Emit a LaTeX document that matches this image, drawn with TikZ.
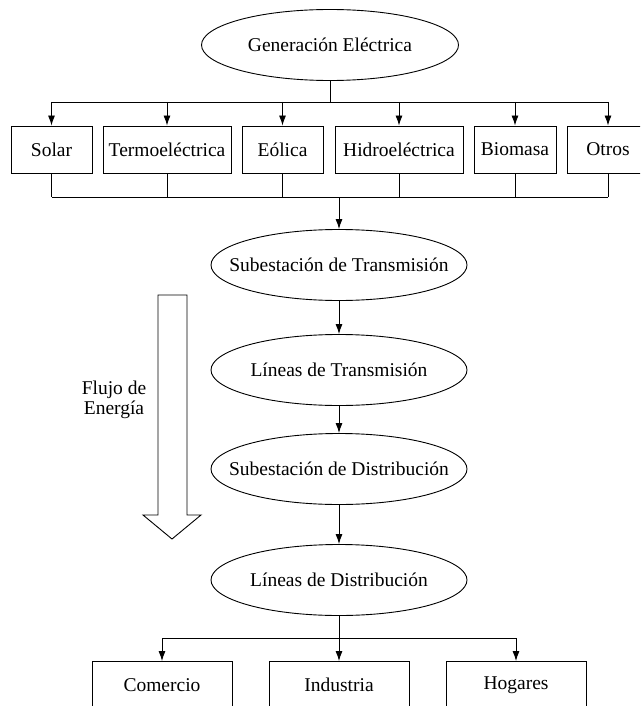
\documentclass[tikz,border=0pt]{standalone}
\usepackage{fontspec}
\setmainfont{Liberation Serif}
\usepackage{tikz}
\usetikzlibrary{arrows.meta, shapes.geometric, positioning}

\tikzset{
  elipse/.style={ellipse, draw, minimum width=256pt, minimum height=71pt,
    inner xsep=-35pt, inner ysep=0pt},
  caja/.style={rectangle, draw, minimum height=47pt, inner sep=0pt},
  flecha/.style={-{Latex[length=10pt, width=7pt]}},
}

\begin{document}
\begin{tikzpicture}[x=1pt, y=-1pt, line width=0.9pt,
    font=\fontsize{19.5}{20}\selectfont]

  \useasboundingbox (0,0) rectangle (640,706);
  \clip (0,0) rectangle (640,706);

  % Generacion
  \node[elipse, minimum width=257pt] (gen) at (330,45) {Generación Eléctrica};

  % Fuentes
  \node[caja, minimum width=81pt]  (solar)   at (51.5,149.5) {Solar};
  \node[caja, minimum width=128pt] (termo)   at (167,149.5)  {Termoeléctrica};
  \node[caja, minimum width=81pt]  (eolica)  at (282.5,149.5) {Eólica};
  \node[caja, minimum width=128pt] (hidro)   at (399,149.5)  {Hidroeléctrica};
  \node[caja, minimum width=82pt]  (biomasa) at (515,149.5)  {Biomasa};
  \node[caja, minimum width=82pt]  (otros)   at (608,149.5)  {Otros};

  \coordinate (busA) at (330,102);
  \coordinate (busB) at (339,197);
  \draw (gen) -- (busA);
  \draw (busA -| solar) -- (busA -| otros);
  \draw (busB -| solar) -- (busB -| otros);
  \foreach \f in {solar, termo, eolica, hidro, biomasa, otros} {
    \draw[flecha] (busA -| \f) -- (\f);
    \draw (\f) -- (busB -| \f);
  }

  % Cadena
  \node[elipse] (subT) at (339,265) {Subestación de Transmisión};
  \node[elipse] (linT) at (339,370) {Líneas de Transmisión};
  \node[elipse] (subD) at (339,469) {Subestación de Distribución};
  \node[elipse] (linD) at (339,580) {Líneas de Distribución};
  \draw[flecha] (busB) -- (subT);
  \draw[flecha] (subT) -- (linT);
  \draw[flecha] (linT) -- (subD);
  \draw[flecha] (subD) -- (linD);

  % Consumo
  \node[caja, minimum width=140pt] (comercio)  at (162,685) {Comercio};
  \node[caja, minimum width=140pt] (industria) at (339,685) {Industria};
  \node[caja, minimum width=140pt] (hogares)   at (516,685) {Hogares};
  \coordinate (busC) at (339,638);
  \draw (linD) -- (busC);
  \draw (busC -| comercio) -- (busC -| hogares);
  \foreach \c in {comercio, industria, hogares}
    \draw[flecha] (busC -| \c) -- (\c);

  % Flujo
  \draw (158,295) -- (187,295) -- (187,515) -- (201,515) -- (172,539)
    -- (143,515) -- (158,515) -- cycle;
  \node[align=center] (flujo) at (114,400) {Flujo de\\Energía};

\end{tikzpicture}
\end{document}
